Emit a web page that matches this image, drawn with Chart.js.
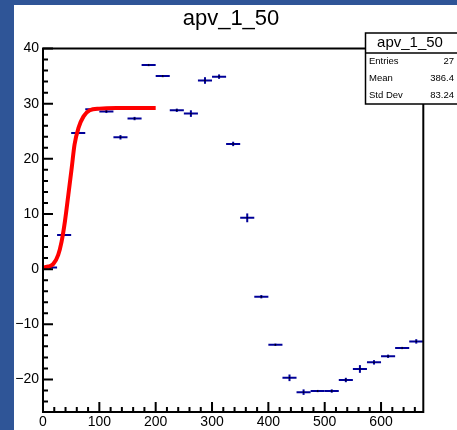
<!DOCTYPE html>
<html>
<head>
<meta charset="utf-8">
<script src="https://cdn.jsdelivr.net/npm/chart.js@4.4.1/dist/chart.umd.min.js"></script>
<style>
  body { margin: 0; background: #2f5597; width: 457px; height: 430px; overflow: hidden; }
  #wrap { position: absolute; left: 14px; top: 5px; width: 443px; height: 425px; background: #fff; }
</style>
</head>
<body>
<div id="wrap"><canvas id="histo"></canvas></div>
<script>
// histogram apv_1_50, 27 bins of width 25 from 0 to 675
var binCenters = [12.5, 37.5, 62.5, 87.5, 112.5, 137.5, 162.5, 187.5, 212.5, 237.5, 262.5, 287.5, 312.5, 337.5,
                  362.5, 387.5, 412.5, 437.5, 462.5, 487.5, 512.5, 537.5, 562.5, 587.5, 612.5, 637.5, 662.5];
var binValues = [0.3, 6.2, 24.7, 29.0, 28.6, 23.9, 27.3, 37.0, 35.0, 28.8, 28.2, 34.2, 34.9, 22.7,
                 9.3, -5.0, -13.7, -19.7, -22.3, -22.1, -22.1, -20.1, -18.1, -16.9, -15.8, -14.3, -13.1];
var binErrors = [0.2, 0.2, 0.2, 0.2, 0.3, 0.4, 0.3, 0.2, 0.2, 0.3, 0.6, 0.6, 0.4, 0.4,
                 0.8, 0.3, 0.2, 0.6, 0.5, 0.2, 0.3, 0.4, 0.7, 0.4, 0.3, 0.2, 0.4];

// fit function (red)
var fitX = [0, 10, 18, 27, 33, 39, 45, 51, 56, 63, 72, 83, 100, 130, 160, 200];
var fitY = [0.3, 0.5, 0.9, 2.6, 5.0, 8.7, 13.5, 18.4, 22.6, 25.6, 27.7, 28.8, 29.1, 29.2, 29.2, 29.2];

var xTickLabels = [0, 100, 200, 300, 400, 500, 600];
var yTickLabels = [-20, -10, 0, 10, 20, 30, 40];

var statsNames = ['Entries', 'Mean', 'Std Dev'];
var statsValues = ['27', '386.4', '83.24'];

var histColor = 'rgb(0, 0, 153)';

Chart.defaults.font.family = "'Liberation Sans', Arial, sans-serif";
Chart.defaults.color = '#000';

var histPoints = binCenters.map(function(x, i) { return { x: x, y: binValues[i] }; });
var fitPoints = fitX.map(function(x, i) { return { x: x, y: fitY[i] }; });

var rootStyle = {
    id: 'rootStyle',
    beforeDatasetsDraw: function(chart) {
        var ctx = chart.ctx, xs = chart.scales.x, ys = chart.scales.y;
        // vertical error bars
        ctx.save();
        ctx.strokeStyle = histColor;
        ctx.lineWidth = 2;
        binCenters.forEach(function(x, i) {
            var px = xs.getPixelForValue(x);
            ctx.beginPath();
            ctx.moveTo(px, ys.getPixelForValue(binValues[i] - binErrors[i]));
            ctx.lineTo(px, ys.getPixelForValue(binValues[i] + binErrors[i]));
            ctx.stroke();
        });
        ctx.restore();
    },
    afterDraw: function(chart) {
        var ctx = chart.ctx, a = chart.chartArea, xs = chart.scales.x, ys = chart.scales.y;
        ctx.save();
        // frame
        ctx.strokeStyle = '#000';
        ctx.lineWidth = 2;
        ctx.strokeRect(a.left, a.top, a.right - a.left, a.bottom - a.top);

        // inward ticks
        ctx.beginPath();
        for (var v = -24; v <= 40; v += 2) {
            var py = ys.getPixelForValue(v);
            ctx.moveTo(a.left, py);
            ctx.lineTo(a.left + (v % 10 === 0 ? 10 : 5), py);
        }
        for (var u = 0; u <= 660; u += 20) {
            var px = xs.getPixelForValue(u);
            ctx.moveTo(px, a.bottom);
            ctx.lineTo(px, a.bottom - (u % 100 === 0 ? 10 : 5));
        }
        ctx.stroke();

        // title
        ctx.fillStyle = '#000';
        ctx.font = "22px 'Liberation Sans', Arial, sans-serif";
        ctx.textAlign = 'center';
        ctx.textBaseline = 'middle';
        ctx.fillText('apv_1_50', 217, 14);

        // stats box
        var bl = 351.5, bt = 28, br = 452, bb = 99, sep = 48;
        ctx.fillStyle = '#fff';
        ctx.fillRect(bl, bt, br - bl, bb - bt);
        ctx.lineWidth = 1.5;
        ctx.strokeRect(bl, bt, br - bl, bb - bt);
        ctx.beginPath();
        ctx.moveTo(bl, sep);
        ctx.lineTo(br, sep);
        ctx.stroke();

        ctx.fillStyle = '#000';
        ctx.font = "15px 'Liberation Sans', Arial, sans-serif";
        ctx.textAlign = 'center';
        ctx.fillText('apv_1_50', 396, 38);

        ctx.font = "9.5px 'Liberation Sans', Arial, sans-serif";
        var rowH = (bb - sep) / statsNames.length;
        statsNames.forEach(function(name, i) {
            var cy = sep + rowH * (i + 0.5);
            ctx.textAlign = 'left';
            ctx.fillText(name, 355, cy);
            ctx.textAlign = 'right';
            ctx.fillText(statsValues[i], 440, cy);
        });
        ctx.restore();
    }
};

var ctx = document.getElementById('histo').getContext('2d');

var histChart = new Chart(ctx, {
    type: 'scatter',
    data: {
        datasets: [
            {
                // fit curve
                type: 'line',
                data: fitPoints,
                borderColor: 'rgb(255, 0, 0)',
                borderWidth: 4,
                pointRadius: 0,
                fill: false,
                cubicInterpolationMode: 'monotone',
                clip: false
            },
            {
                // bin centre markers
                data: histPoints,
                pointStyle: 'rect',
                pointRadius: 1,
                backgroundColor: '#000',
                borderWidth: 0
            },
            {
                // horizontal bin-width bars
                data: histPoints,
                pointStyle: 'line',
                pointRadius: 7.04,
                borderColor: histColor,
                borderWidth: 2
            }
        ]
    },
    options: {
        responsive: true,
        maintainAspectRatio: false,
        animation: false,
        layout: {
            padding: { top: 43.5, right: 33.7, bottom: 0, left: 0 }
        },
        scales: {
            x: {
                type: 'linear',
                min: 0,
                max: 675,
                grid: { display: false, drawTicks: false, tickLength: 0 },
                border: { display: false },
                afterBuildTicks: function(scale) {
                    scale.ticks = xTickLabels.map(function(v) { return { value: v }; });
                },
                afterFit: function(scale) { scale.height = 18; },
                ticks: {
                    font: { size: 14 },
                    padding: 2,
                    maxRotation: 0,
                    autoSkip: false
                }
            },
            y: {
                type: 'linear',
                min: -25.9,
                max: 40,
                grid: { display: false, drawTicks: false, tickLength: 0 },
                border: { display: false },
                afterBuildTicks: function(scale) {
                    scale.ticks = yTickLabels.map(function(v) { return { value: v }; });
                },
                afterFit: function(scale) { scale.width = 29; },
                ticks: {
                    font: { size: 14 },
                    padding: 4,
                    callback: function(value) {
                        return value < 0 ? '\u2212' + Math.abs(value) : String(value);
                    }
                }
            }
        },
        plugins: {
            legend: { display: false },
            tooltip: { enabled: false }
        }
    },
    plugins: [rootStyle]
});
</script>
</body>
</html>
